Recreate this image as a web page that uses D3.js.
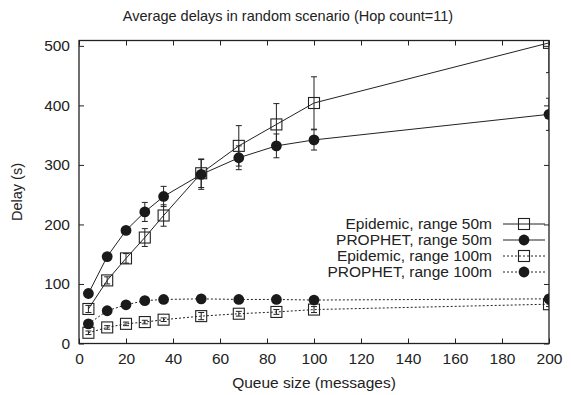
<!DOCTYPE html>
<html>
<head>
<meta charset="utf-8">
<script src="https://cdn.jsdelivr.net/npm/d3@7"></script>
<style>
  html, body { margin: 0; padding: 0; background: #fff; }
  text { font-family: "Liberation Sans", Arial, sans-serif; fill: #222; }
</style>
</head>
<body>
<svg id="chart" width="571" height="395"></svg>
<script>
// ---- data ----
const queueSizes = [4, 12, 20, 28, 36, 52, 68, 84, 100, 200];
const epidemic50 = [58, 106, 143, 178, 215, 286, 332, 368, 404, 505];
const epidemic50Err = [6, 6, 8, 15, 18, 24, 34, 35, 44, 50];
const prophet50 = [84, 146, 190, 221, 247, 284, 312, 332, 342, 385];
const prophet50Err = [3, 3, 6, 16, 17, 25, 20, 20, 17, 27];
const epidemic100 = [18, 27, 33, 36, 40, 46, 50, 53, 57, 66];
const epidemic100Err = [3, 3, 3, 3, 3, 6, 4, 4, 5, 4];
const prophet100 = [33, 55, 65, 72, 74, 75, 74, 74, 73, 75];
const prophet100Err = [2, 2, 2, 2, 2, 2, 2, 2, 2, 2];
const seriesNames = ["Epidemic, range 50m", "PROPHET, range 50m", "Epidemic, range 100m", "PROPHET, range 100m"];
const xTicks = [0, 20, 40, 60, 80, 100, 120, 140, 160, 180, 200];
const yTicks = [0, 100, 200, 300, 400, 500];
const titleText = "Average delays in random scenario (Hop count=11)";
const xLabel = "Queue size (messages)";
const yLabel = "Delay (s)";

const series = [
  { name: seriesNames[0], values: epidemic50, err: epidemic50Err, marker: "square", dash: null },
  { name: seriesNames[1], values: prophet50, err: prophet50Err, marker: "circle", dash: null },
  { name: seriesNames[2], values: epidemic100, err: epidemic100Err, marker: "square", dash: "2,2" },
  { name: seriesNames[3], values: prophet100, err: prophet100Err, marker: "circle", dash: "2,2" }
];

// ---- layout ----
const svg = d3.select("#chart");
const pLeft = 79, pRight = 549, pTop = 40.5, pBottom = 343.5;
const x = d3.scaleLinear().domain([0, 200]).range([pLeft, pRight]);
const y = d3.scaleLinear().domain([0, 509]).range([pBottom, pTop]);
const ink = "#222";
const fs = "15.5px";

svg.append("defs").append("clipPath").attr("id", "clip")
  .append("rect").attr("x", pLeft).attr("y", pTop).attr("width", pRight - pLeft).attr("height", pBottom - pTop);

// title
svg.append("text").attr("x", 288).attr("y", 21).attr("text-anchor", "middle")
  .style("font-size", "14.5px").text(titleText);

// axes (ticks inward, mirrored)
const tickLen = 5;
svg.append("g").attr("transform", `translate(0,${pBottom})`)
  .call(d3.axisBottom(x).tickValues(xTicks).tickSize(-tickLen).tickPadding(9))
  .call(g => { g.select(".domain").remove(); g.selectAll("text").style("font-size", fs); });
svg.append("g").attr("transform", `translate(0,${pTop})`)
  .call(d3.axisTop(x).tickValues(xTicks).tickSize(-tickLen).tickFormat(""))
  .call(g => g.select(".domain").remove());
svg.append("g").attr("transform", `translate(${pLeft},0)`)
  .call(d3.axisLeft(y).tickValues(yTicks).tickSize(-tickLen).tickPadding(9))
  .call(g => { g.select(".domain").remove(); g.selectAll("text").style("font-size", fs); });
svg.append("g").attr("transform", `translate(${pRight},0)`)
  .call(d3.axisRight(y).tickValues(yTicks).tickSize(-tickLen).tickFormat(""))
  .call(g => g.select(".domain").remove());
svg.selectAll(".tick line").attr("stroke", ink);

// frame
svg.append("rect").attr("x", pLeft).attr("y", pTop).attr("width", pRight - pLeft).attr("height", pBottom - pTop)
  .attr("fill", "none").attr("stroke", ink).attr("stroke-width", 1.3);

// axis labels
svg.append("text").attr("x", (pLeft + pRight) / 2).attr("y", 388).attr("text-anchor", "middle")
  .style("font-size", fs).text(xLabel);
svg.append("text").attr("transform", `translate(22,${(pTop + pBottom) / 2}) rotate(-90)`)
  .attr("text-anchor", "middle").style("font-size", "14.5px").text(yLabel);

// series
const plot = svg.append("g").attr("clip-path", "url(#clip)");
const line = d3.line().x(d => x(d.x)).y(d => y(d.v));
const capW = 3, half = 5.5;

function drawMarker(g, type, cx, cy) {
  if (type === "square") {
    g.append("rect").attr("x", cx - half).attr("y", cy - half).attr("width", 2 * half).attr("height", 2 * half)
      .attr("fill", "none").attr("stroke", ink).attr("stroke-width", 1.1);
  } else {
    g.append("circle").attr("cx", cx).attr("cy", cy).attr("r", 5.4).attr("fill", "#1a1a1a");
  }
}

series.forEach(s => {
  const pts = queueSizes.map((q, i) => ({ x: q, v: s.values[i], e: s.err[i] }));
  plot.append("path").datum(pts).attr("d", line).attr("fill", "none")
    .attr("stroke", ink).attr("stroke-width", 1).attr("stroke-dasharray", s.dash);
  pts.forEach(p => {
    const cx = x(p.x), y1 = y(p.v + p.e), y2 = y(p.v - p.e);
    plot.append("line").attr("x1", cx).attr("x2", cx).attr("y1", y1).attr("y2", y2).attr("stroke", ink);
    plot.append("line").attr("x1", cx - capW).attr("x2", cx + capW).attr("y1", y1).attr("y2", y1).attr("stroke", ink);
    plot.append("line").attr("x1", cx - capW).attr("x2", cx + capW).attr("y1", y2).attr("y2", y2).attr("stroke", ink);
  });
  pts.forEach(p => drawMarker(plot, s.marker, x(p.x), y(p.v)));
});

// legend
const legendTextX = 492, lineX1 = 503, lineX2 = 545, legY0 = 224, legDy = 16;
series.forEach((s, i) => {
  const ly = legY0 + i * legDy;
  svg.append("text").attr("x", legendTextX).attr("y", ly).attr("dy", "0.35em").attr("text-anchor", "end")
    .style("font-size", fs).text(s.name);
  svg.append("line").attr("x1", lineX1).attr("x2", lineX2).attr("y1", ly).attr("y2", ly)
    .attr("stroke", ink).attr("stroke-dasharray", s.dash);
  drawMarker(svg, s.marker, (lineX1 + lineX2) / 2, ly);
});
</script>
</body>
</html>
